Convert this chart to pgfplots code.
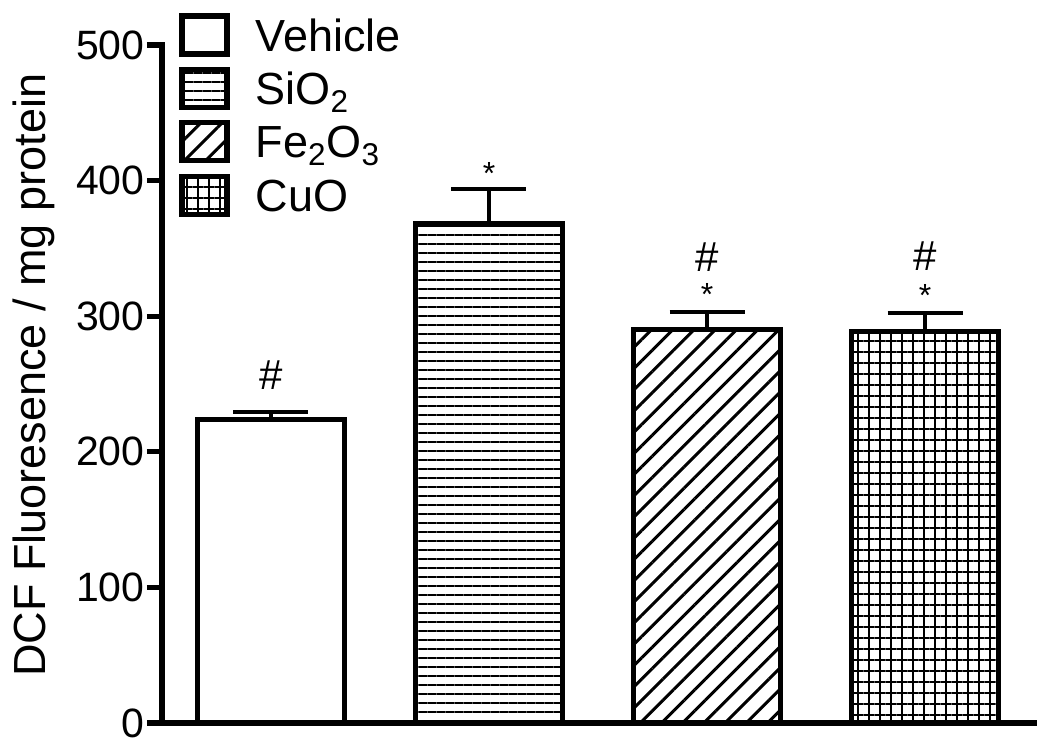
\documentclass[border=0pt]{standalone}
\usepackage{fontspec}
\setmainfont{Liberation Sans}
\usepackage{pgfplots}
\pgfplotsset{compat=1.18}
\usetikzlibrary{patterns.meta}
\begin{document}
\begin{tikzpicture}
\begin{axis}[
  scale only axis,
  width=436pt, height=339pt,
  xmin=-0.5, xmax=3.5,
  ymin=0, ymax=500,
  axis x line=bottom, axis y line=left,
  axis line style={-, line width=2.6pt, line cap=rect},
  xtick=\empty,
  ytick={0,100,200,300,400,500},
  ytick align=outside,
  major tick length=7.5pt,
  ytick style={line width=2.6pt, black},
  /pgf/number format/assume math mode=true,
  yticklabel style={font=\fontsize{20.5}{24}\selectfont, inner sep=1pt},
  ylabel={DCF Fluoresence / mg protein},
  ylabel style={at={(axis description cs:-0.1468,0.513)}, anchor=center, font=\fontsize{22.5}{27}\selectfont, inner sep=0pt},
  ybar, bar width=0.674, bar shift=0pt,
  error bars/y dir=plus, error bars/y explicit,
  error bars/error bar style={line width=2pt, black},
  error bars/error mark options={rotate=90, line width=2pt, black, mark size=18.75pt},
  legend image code/.code={\draw[#1, line width=2.6pt] (0pt,-6.9pt) rectangle (22.5pt,12.1pt);},
  legend style={draw=none, fill=none, at={(axis description cs:0,1)}, anchor=north west,
    xshift=8.5pt, yshift=16pt, row sep=2.8pt, inner sep=0pt,
    font=\fontsize{22.5}{27}\selectfont,
    nodes={inner sep=0pt, text height=16pt, text depth=5pt},
    /tikz/every odd column/.style={column sep=13pt}},
  legend cell align=left,
]
\addplot[draw=black, fill=white, line width=2.6pt] coordinates {(0,224) +- (0,5)};
\addlegendentry{Vehicle}
\addplot[draw=black, line width=2.6pt, pattern={Lines[angle=0, distance=4.5pt, line width=1pt]}, pattern color=black] coordinates {(1,368) +- (0,26)};
\addlegendentry{SiO\textsubscript{2}}
\addplot[draw=black, line width=2.6pt, pattern={Lines[angle=45, distance=7.5pt, line width=1.5pt]}, pattern color=black] coordinates {(2,290) +- (0,13)};
\addlegendentry{Fe\textsubscript{2}O\textsubscript{3}}
\addplot[draw=black, line width=2.6pt, pattern={Hatch[angle=0, distance=5.5pt, line width=1.1pt]}, pattern color=black] coordinates {(3,289) +- (0,13)};
\addlegendentry{CuO}
\node[anchor=base, font=\fontsize{21}{25}\selectfont, inner sep=0pt] at (axis cs:0,246) {\#};
\node[anchor=base, font=\fontsize{16}{19}\selectfont, inner sep=0pt] at (axis cs:1,397) {*};
\node[anchor=base, font=\fontsize{16}{19}\selectfont, inner sep=0pt] at (axis cs:2,308) {*};
\node[anchor=base, font=\fontsize{21}{25}\selectfont, inner sep=0pt] at (axis cs:2,333) {\#};
\node[anchor=base, font=\fontsize{16}{19}\selectfont, inner sep=0pt] at (axis cs:3,307) {*};
\node[anchor=base, font=\fontsize{21}{25}\selectfont, inner sep=0pt] at (axis cs:3,334) {\#};
\end{axis}
\pgfresetboundingbox
\path[use as bounding box] ([shift={(-81pt,-12.5pt)}]current axis.south west) rectangle ([shift={(8pt,22.5pt)}]current axis.north east);
\end{tikzpicture}
\end{document}
